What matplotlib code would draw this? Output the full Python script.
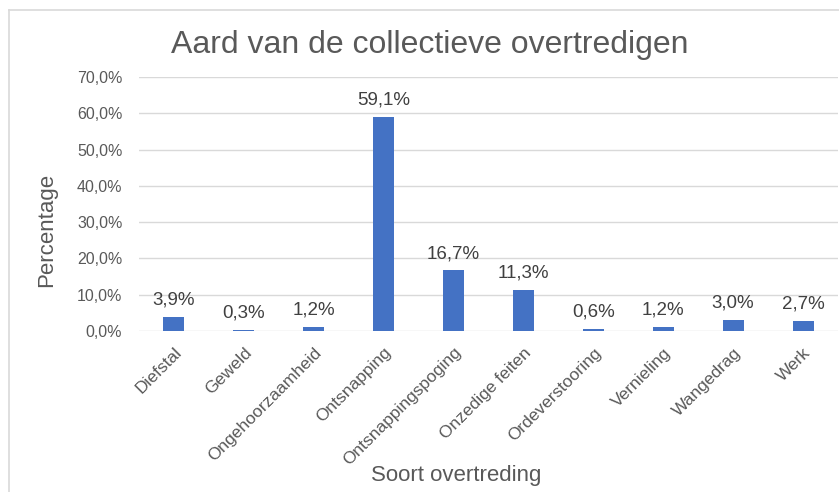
import matplotlib.pyplot as plt
from matplotlib.lines import Line2D
from matplotlib.ticker import FuncFormatter
import numpy as np

categories = ["Diefstal", "Geweld", "Ongehoorzaamheid", "Ontsnapping",
              "Ontsnappingspoging", "Onzedige feiten", "Ordeverstooring",
              "Vernieling", "Wangedrag", "Werk"]
percentages = [3.9, 0.3, 1.2, 59.1, 16.7, 11.3, 0.6, 1.2, 3.0, 2.7]
yticks = [0, 10, 20, 30, 40, 50, 60, 70]

W, H = 839, 492
plt.rcParams["font.family"] = ["Liberation Sans", "DejaVu Sans"]

fig = plt.figure(figsize=(W / 100, H / 100), dpi=100)
ax = fig.add_axes([139 / W, 1 - 331 / H, (838 - 139) / W, (331 - 77) / H])

x = np.arange(len(categories))
ax.bar(x, percentages, width=0.3, color="#4472C4", zorder=3)
for xi, v in zip(x, percentages):
    ax.annotate(f"{v:.1f}%".replace(".", ","), xy=(xi, v), xytext=(0, 6),
                textcoords="offset points", ha="center", va="bottom",
                fontsize=13.5, color="#404040")

ax.set_xlim(-0.5, len(categories) - 0.5)
ax.set_ylim(0, 70)
ax.set_yticks(yticks)
ax.yaxis.set_major_formatter(FuncFormatter(lambda v, p: f"{v:.1f}%".replace(".", ",")))
ax.grid(axis="y", color="#D9D9D9", linewidth=1, zorder=0)
for s in ax.spines.values():
    s.set_visible(False)
ax.tick_params(axis="both", length=0, labelcolor="#595959")
ax.tick_params(axis="y", labelsize=11.5, pad=12)
ax.set_xticks(x)
ax.set_xticklabels(categories, rotation=45, ha="right", va="top",
                   rotation_mode="anchor")
ax.tick_params(axis="x", labelsize=12.5, pad=10)

fig.text(430 / W, 1 - 45 / H, "Aard van de collectieve overtredigen",
         ha="center", va="center", fontsize=23, color="#595959")
fig.text(47 / W, 1 - 230 / H, "Percentage", rotation=90, ha="center",
         va="center", fontsize=16, color="#595959")
fig.text(456 / W, 1 - 475 / H, "Soort overtreding", ha="center",
         va="center", fontsize=16, color="#595959")

# chart frame (cropped at right and bottom)
fig.add_artist(Line2D([9 / W, 9 / W], [0, 1 - 10 / H], color="#D9D9D9",
                      linewidth=1.2, transform=fig.transFigure))
fig.add_artist(Line2D([9 / W, 1], [1 - 10 / H, 1 - 10 / H], color="#D9D9D9",
                      linewidth=1.2, transform=fig.transFigure))

fig.savefig("out.png", dpi=100)
